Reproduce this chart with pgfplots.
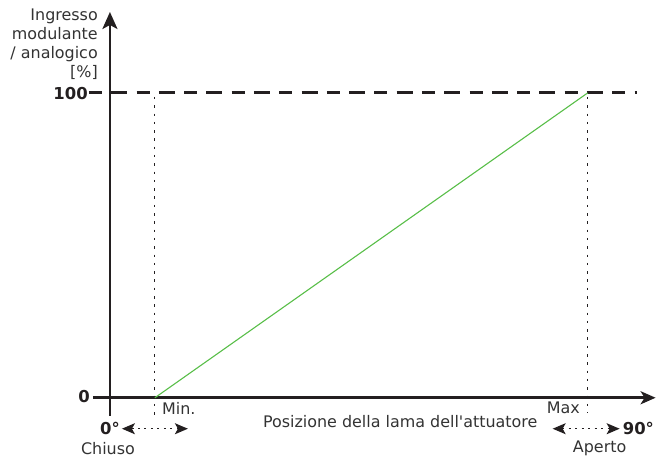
\documentclass[border=0pt]{standalone}
\usepackage{pgfplots}
\pgfplotsset{compat=1.18}
\usepackage{fontspec}
\setmainfont{DejaVu Sans}
\usetikzlibrary{arrows.meta}
\definecolor{lgreen}{RGB}{88,190,72}
\definecolor{txt}{RGB}{51,51,51}
\definecolor{ink}{RGB}{35,31,32}
\tikzset{
  lbl/.style={inner sep=0pt, font=\fontsize{16}{19}\selectfont, text=txt},
  blbl/.style={inner sep=0pt, font=\fontsize{16.5}{19}\selectfont\bfseries, text=ink},
}
\begin{document}
\begin{tikzpicture}
\begin{axis}[
  scale only axis, width=657bp, height=462bp,
  xmin=-110, xmax=547, ymin=-20.984, ymax=130.492,
  axis lines=none, clip=false,
]
\path (rel axis cs:0,0) rectangle (rel axis cs:1,1);
% axes
\draw[ink, line width=2.6bp, -{Stealth[length=17bp,width=15bp,inset=4bp]}] (axis cs:0,-5.9) -- (axis cs:0,126.56);
\draw[ink, line width=2.8bp, -{Stealth[length=15bp,width=13bp,inset=4bp]}] (axis cs:-17,0) -- (axis cs:546,0);
% dashed 100 line
\draw[ink, line width=3bp, dash pattern=on 13bp off 9.3bp on 16bp off 9.3bp] (axis cs:-21,100) -- (axis cs:527,100);
% dotted verticals
\draw[ink, line width=1.15bp, dash pattern=on 2.5bp off 5.8bp] (axis cs:45,98.69) -- (axis cs:45,-6.23);
\draw[ink, line width=1.15bp, dash pattern=on 2.5bp off 5.8bp] (axis cs:478,98.69) -- (axis cs:478,-4.92);
% data line
\addplot[lgreen, line width=1.1bp, no markers] coordinates {(45,0) (478,100)};
% double arrows
\draw[ink, line width=1.3bp, dash pattern=on 2bp off 4.5bp, {Stealth[length=13bp,width=11bp,inset=3bp]}-{Stealth[length=13bp,width=11bp,inset=3bp]}] (axis cs:12,-10.16) -- (axis cs:78,-10.16);
\draw[ink, line width=1.3bp, dash pattern=on 2bp off 4.5bp, {Stealth[length=13bp,width=11bp,inset=3bp]}-{Stealth[length=13bp,width=11bp,inset=3bp]}] (axis cs:443,-10.16) -- (axis cs:510,-10.16);
% y label
\node[lbl, anchor=base east] at (axis cs:-12,123.61) {Ingresso};
\node[lbl, anchor=base east] at (axis cs:-12,117.38) {modulante};
\node[lbl, anchor=base east] at (axis cs:-12,111.15) {/ analogico};
\node[lbl, anchor=base east] at (axis cs:-12,104.92) {[\%]};
% tick labels
\node[blbl, anchor=base east] at (axis cs:-22,97.7) {100};
\node[blbl, anchor=base east] at (axis cs:-20,-1.64) {0};
% x labels
\node[lbl, anchor=base west] at (axis cs:52,-5.57) {Min.};
\node[lbl, anchor=base west] at (axis cs:437,-5.25) {Max};
\node[lbl, anchor=base west] at (axis cs:153,-9.84) {Posizione della lama dell\textquotesingle attuatore};
\node[blbl, anchor=base east] at (axis cs:10,-12.13) {0°};
\node[blbl, anchor=base west] at (axis cs:513,-12.13) {90°};
\node[lbl, anchor=base] at (axis cs:-2,-18.69) {Chiuso};
\node[lbl, anchor=base] at (axis cs:490,-18.03) {Aperto};
\end{axis}
\end{tikzpicture}
\end{document}
